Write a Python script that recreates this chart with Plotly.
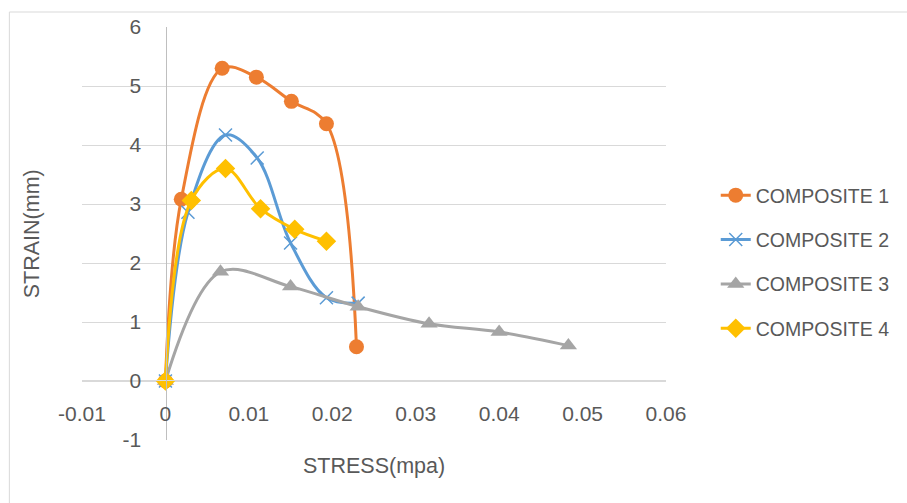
import plotly.graph_objects as go

# ---- data ----
series_names = ["COMPOSITE 1", "COMPOSITE 2", "COMPOSITE 3", "COMPOSITE 4"]
c1_x = [0, 0.0019, 0.0068, 0.0109, 0.0151, 0.0193, 0.0229]
c1_y = [0, 3.08, 5.30, 5.15, 4.74, 4.36, 0.58]
c2_x = [0, 0.0027, 0.0072, 0.0110, 0.0150, 0.0193, 0.0231]
c2_y = [0, 2.86, 4.17, 3.78, 2.34, 1.41, 1.32]
c3_x = [0, 0.0066, 0.0150, 0.0231, 0.0316, 0.0400, 0.0483]
c3_y = [0, 1.85, 1.60, 1.26, 0.97, 0.83, 0.60]
c4_x = [0, 0.0031, 0.0072, 0.0114, 0.0155, 0.0193]
c4_y = [0, 3.06, 3.60, 2.92, 2.57, 2.37]
x_ticks = [-0.01, 0, 0.01, 0.02, 0.03, 0.04, 0.05, 0.06]
y_ticks = [-1, 0, 1, 2, 3, 4, 5, 6]

colors = ["#ED7D31", "#5B9BD5", "#A5A5A5", "#FFC000"]
symbols = ["circle", "x-thin", "triangle-up", "diamond"]
sizes = [15, 13, 15, 15]
xs = [c1_x, c2_x, c3_x, c4_x]
ys = [c1_y, c2_y, c3_y, c4_y]

FONT = "Liberation Sans"
TXT = "#595959"
TICK_SIZE = 21
TITLE_SIZE = 21.5
LEG_SIZE = 19.5

W, H = 907, 503
L, R, T, B = 82, 669, 27, 440   # plot area in pixels

fig = go.Figure()
for i in range(4):
    mk = dict(symbol=symbols[i], size=sizes[i], color=colors[i])
    if symbols[i] == "x-thin":
        mk["line"] = dict(color=colors[i], width=1.5)
    else:
        mk["line"] = dict(width=0)
    fig.add_trace(go.Scatter(
        x=xs[i], y=ys[i], name=series_names[i], mode="lines+markers",
        line=dict(color=colors[i], width=3, shape="spline", smoothing=1.0),
        marker=mk, legendgroup=series_names[i],
    ))

x_pos = (B - 380) / (B - T)      # y=0 in paper fraction
y_pos = (166 - L) / (R - L)      # x=0 in paper fraction

fig.update_layout(
    width=W, height=H,
    margin=dict(l=L, r=W - R, t=T, b=H - B, pad=0),
    paper_bgcolor="white", plot_bgcolor="white",
    font=dict(family=FONT, size=TICK_SIZE, color=TXT),
    showlegend=True,
    legend=dict(
        x=(719 - L) / (R - L), y=(B - 176) / (B - T), xanchor="left", yanchor="top",
        font=dict(family=FONT, size=LEG_SIZE, color=TXT),
        tracegroupgap=16, bgcolor="rgba(0,0,0,0)",
    ),
    xaxis=dict(
        range=[-0.01, 0.06], tickvals=x_ticks, ticktext=[f"{v:g}" for v in x_ticks],
        showgrid=False, zeroline=False, showline=True, linecolor="#D9D9D9", linewidth=1,
        anchor="free", position=x_pos, ticks="", ticklabelstandoff=15,
        tickfont=dict(family=FONT, size=TICK_SIZE, color=TXT),
    ),
    yaxis=dict(
        range=[-1, 6], tickvals=y_ticks, ticktext=[str(v) for v in y_ticks],
        showgrid=True, gridcolor="#D9D9D9", gridwidth=1.3, zeroline=False,
        showline=True, linecolor="#BFBFBF", linewidth=1.3,
        anchor="free", position=y_pos, ticks="", ticklabelstandoff=20,
        tickfont=dict(family=FONT, size=TICK_SIZE, color=TXT),
    ),
    annotations=[
        dict(text="STRAIN(mm)", xref="paper", yref="paper",
             x=(32 - L) / (R - L), y=(B - 234) / (B - T), textangle=-90, showarrow=False,
             xanchor="center", yanchor="middle",
             font=dict(family=FONT, size=TITLE_SIZE, color=TXT)),
        dict(text="STRESS(mpa)", xref="paper", yref="paper",
             x=(375 - L) / (R - L), y=(B - 466) / (B - T), showarrow=False,
             xanchor="center", yanchor="middle",
             font=dict(family=FONT, size=TITLE_SIZE, color=TXT)),
    ],
    shapes=[
        dict(type="rect", xref="paper", yref="paper",
             x0=(9 - L) / (R - L), x1=(920 - L) / (R - L),
             y0=(B - 520) / (B - T), y1=(B - 12) / (B - T),
             line=dict(color="#D9D9D9", width=1), fillcolor="rgba(0,0,0,0)", layer="below"),
    ],
)

fig.write_html("out.html")
